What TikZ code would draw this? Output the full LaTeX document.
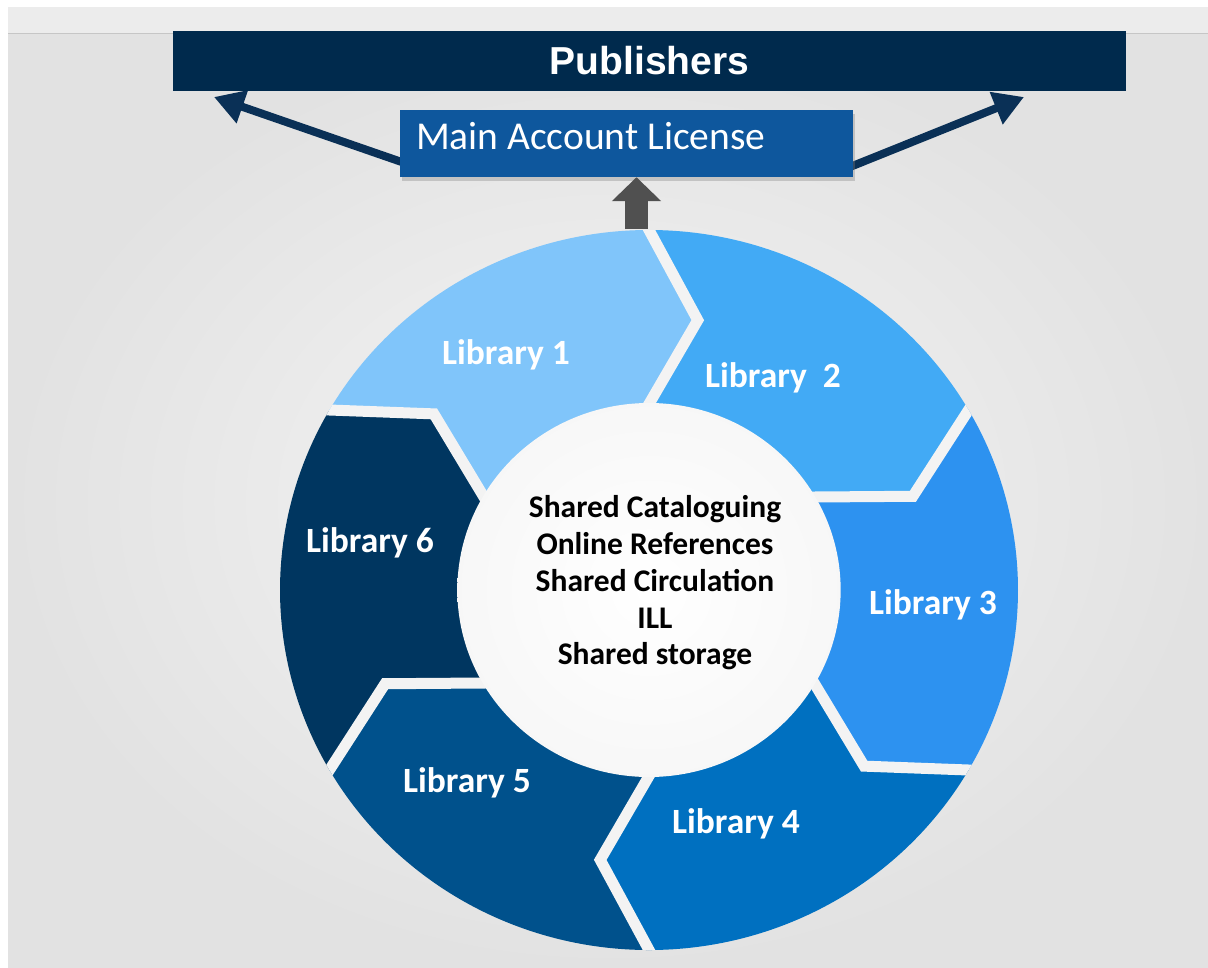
\documentclass[tikz,border=0pt]{standalone}
\usepackage{fontspec}
\setmainfont{Carlito}
\newfontfamily\pubfont{Liberation Sans}
\usetikzlibrary{arrows.meta,calc,shadows}

\pgfdeclarelayer{back}
\pgfsetlayers{back,main}

\definecolor{pubnavy}{RGB}{0,42,77}
\definecolor{licblue}{RGB}{14,87,157}
\definecolor{arrownavy}{RGB}{10,48,86}
\definecolor{upgray}{RGB}{80,80,80}
\definecolor{libA}{RGB}{128,197,250}
\definecolor{libB}{RGB}{66,170,245}
\definecolor{libC}{RGB}{45,146,240}
\definecolor{libD}{RGB}{0,112,192}
\definecolor{libE}{RGB}{0,81,140}
\definecolor{libF}{RGB}{0,54,96}
\definecolor{gapgray}{RGB}{243,243,243}
\definecolor{bgedge}{RGB}{226,226,226}
\definecolor{bgmid}{RGB}{245,245,245}

\tikzset{
  libtext/.style={text=white,font=\bfseries\fontsize{35.5}{42}\selectfont,anchor=base},
  pubarrow/.style={arrownavy,line width=8pt,-{Triangle[length=30pt,width=33pt]}},
  upblock/.style={upgray,line width=23pt,-{Triangle[length=24pt,width=48pt]}},
}

\begin{document}
\begin{tikzpicture}[x=1pt,y=-1pt]
\useasboundingbox (0,0) rectangle (1208,967);
\begin{pgfonlayer}{back}
\fill[white] (0,0) rectangle (1208,967);
\fill[gray!15] (8,7) rectangle (1210,33);
\shade[inner color=bgmid,outer color=bgedge] (8,34) rectangle (1212,970);
\draw[gray!45,line width=1.2pt] (8,33.5) -- (1210,33.5);
\end{pgfonlayer}

\node[fill=pubnavy,minimum width=953pt,minimum height=60pt,inner sep=0pt,text=white,
  font=\pubfont\bfseries\fontsize{39}{45}\selectfont] (pub) at (649.5,61) {Publishers};
\node[fill=licblue,minimum height=67pt,text width=421pt,inner xsep=16pt,align=flush left,
  text height=26pt,text depth=15pt,text=white,font=\fontsize{39.5}{45}\selectfont,
  drop shadow={shadow xshift=2pt,shadow yshift=-4pt,opacity=0.35}] (mal) at (626.5,143.5) {Main Account License};

\coordinate (pubL) at (214,97);
\coordinate (pubR) at (1024,97);
\coordinate (ringtop) at (636.5,229);
\begin{pgfonlayer}{back}
\draw[pubarrow] ([xshift=12pt,yshift=-22pt]mal.west) -- (pubL);
\draw[pubarrow] ([xshift=-12pt,yshift=-27pt]mal.east) -- (pubR);
\end{pgfonlayer}
\draw[upblock] (ringtop) -- (ringtop |- mal.south);

% ring of libraries
\begin{scope}[shift={(649,590)},xscale=1.025]
  \foreach \a/\col in {-150/libA,-90/libB,-30/libC,30/libD,90/libE,150/libF}{
    \fill[\col] (\a:360) arc[start angle=\a,end angle=\a+60,radius=360]
      -- (\a+70:274) -- (\a+60:186) arc[start angle=\a+60,end angle=\a,radius=186]
      -- (\a+10:274) -- cycle;
  }
  \begin{scope}
    \clip (0,0) circle[radius=360];
    \foreach \a in {-150,-90,...,150}{
      \draw[gapgray,line width=11pt]
        ($(\a:360)!-0.3!(\a+10:274)$) -- (\a+10:274) -- ($(\a:186)!-0.3!(\a+10:274)$);
    }
  \end{scope}
  \shade[inner color=white,outer color=gray!6] (0,0) circle[radius=187];
\end{scope}

\node[libtext] (lib1) at (506,364) {Library 1};
\node[libtext] (lib2) at (773,387) {Library~~2};
\node[libtext] (lib3) at (933,614) {Library 3};
\node[libtext] (lib4) at (736,833) {Library 4};
\node[libtext] (lib5) at (467,792) {Library 5};
\node[libtext] (lib6) at (370,552) {Library 6};

\node[font=\bfseries\fontsize{31.5}{36.7}\selectfont,align=center] (core) at (655,583)
  {Shared Cataloguing\\Online References\\Shared Circulation\\ILL\\Shared storage};
\end{tikzpicture}
\end{document}
